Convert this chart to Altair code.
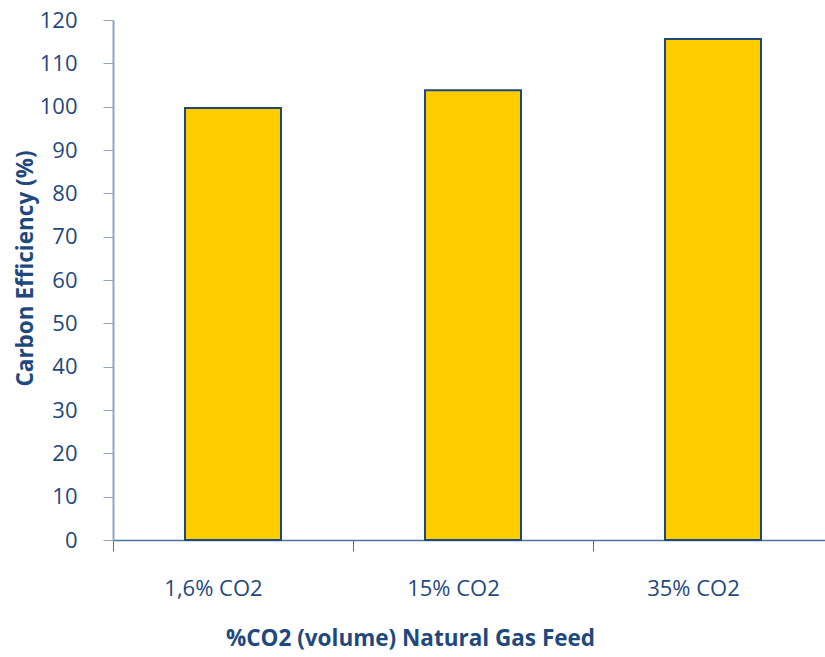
import altair as alt
import pandas as pd

# Carbon efficiency for each CO2 content of the natural gas feed
categories = ["1,6% CO2", "15% CO2", "35% CO2"]
efficiency = [99.7, 103.8, 115.6]

df = pd.DataFrame({"feed": categories, "eff": efficiency})

text_color = "#1F497D"
font = "Open Sans"

bars = alt.Chart(df).mark_bar(
    color="#FFCC00", stroke="#1F497D", strokeWidth=2,
    width=alt.RelativeBandSize(0.4),
).encode(
    x=alt.X(
        "feed:N",
        sort=categories,
        scale=alt.Scale(paddingInner=0, paddingOuter=0, range=[0, 720]),
        axis=alt.Axis(
            title="%CO2 (volume) Natural Gas Feed",
            labelAngle=0,
            labelFontSize=22,
            labelColor=text_color,
            labelPadding=27,
            labelOffset=-20,
            tickBand="extent",
            tickSize=11,
            tickColor="#4F71A0",
            domainColor="#4F71A0",
            domainWidth=1.5,
            titleFontSize=22.5,
            titleFontWeight="bold",
            titleColor=text_color,
            titleX=297,
            titleY=105,
            titleBaseline="alphabetic",
        ),
    ),
    y=alt.Y(
        "eff:Q",
        scale=alt.Scale(domain=[0, 120], nice=False),
        axis=alt.Axis(
            title="Carbon Efficiency (%)",
            values=list(range(0, 121, 10)),
            grid=False,
            labelFontSize=22,
            labelColor=text_color,
            labelPadding=26,
            tickSize=10,
            tickColor="#8EA4C1",
            domainColor="#8EA4C1",
            domainWidth=2,
            titleFontSize=22.5,
            titleFontWeight="bold",
            titleColor=text_color,
            titleX=-81,
            titleY=248,
            titleBaseline="alphabetic",
        ),
    ),
)

chart = bars.properties(
    width=712,
    height=520,
    autosize=alt.AutoSizeParams(type="none"),
    padding={"left": 113, "top": 20, "right": 0, "bottom": 117},
).configure(font=font).configure_view(stroke=None)

chart.save("out.html", embed_options={"renderer": "svg", "actions": False})
